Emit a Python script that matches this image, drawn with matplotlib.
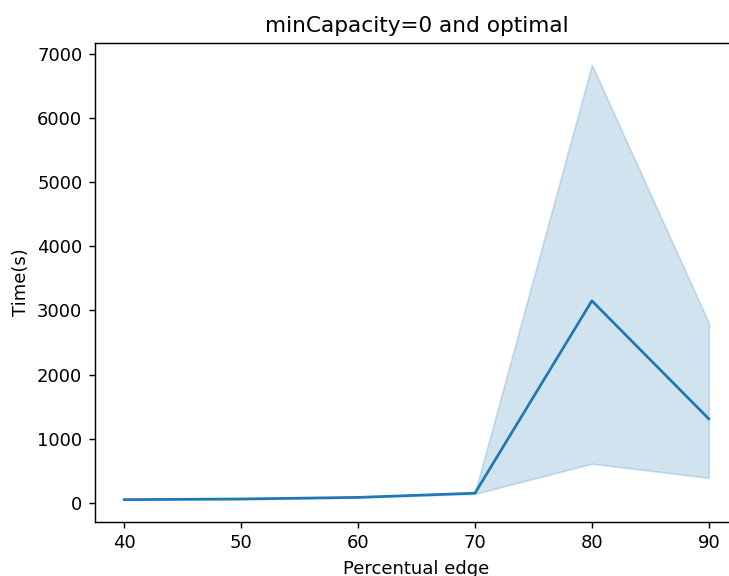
import matplotlib
matplotlib.use("Agg")

import numpy as np
import matplotlib.pyplot as plt

# mean run time per edge percentage, with its confidence band
edge_pct = [40, 50, 60, 70, 80, 90]
time_mean = [50, 60, 85, 150, 3150, 1310]
time_low = [45, 55, 80, 140, 610, 390]
time_high = [55, 65, 90, 160, 6830, 2810]

W, H, DPI = 729, 576, 130
fig = plt.figure(figsize=(W / DPI, H / DPI), dpi=DPI)
# axes run past the right edge of the canvas, so no right spine shows
ax = fig.add_axes([95 / W, (H - 521.7) / H, 643 / W, 478.7 / H])

ax.fill_between(edge_pct, time_low, time_high, color="#1f77b4", alpha=0.2, linewidth=1)
ax.plot(edge_pct, time_mean, color="#1f77b4", linewidth=1.5)

ax.set_xticks(edge_pct)
ax.set_title("minCapacity=0 and optimal")
ax.set_xlabel("Percentual edge")
ax.set_ylabel("Time(s)")

plt.savefig("out.png", dpi=DPI)
plt.close()
